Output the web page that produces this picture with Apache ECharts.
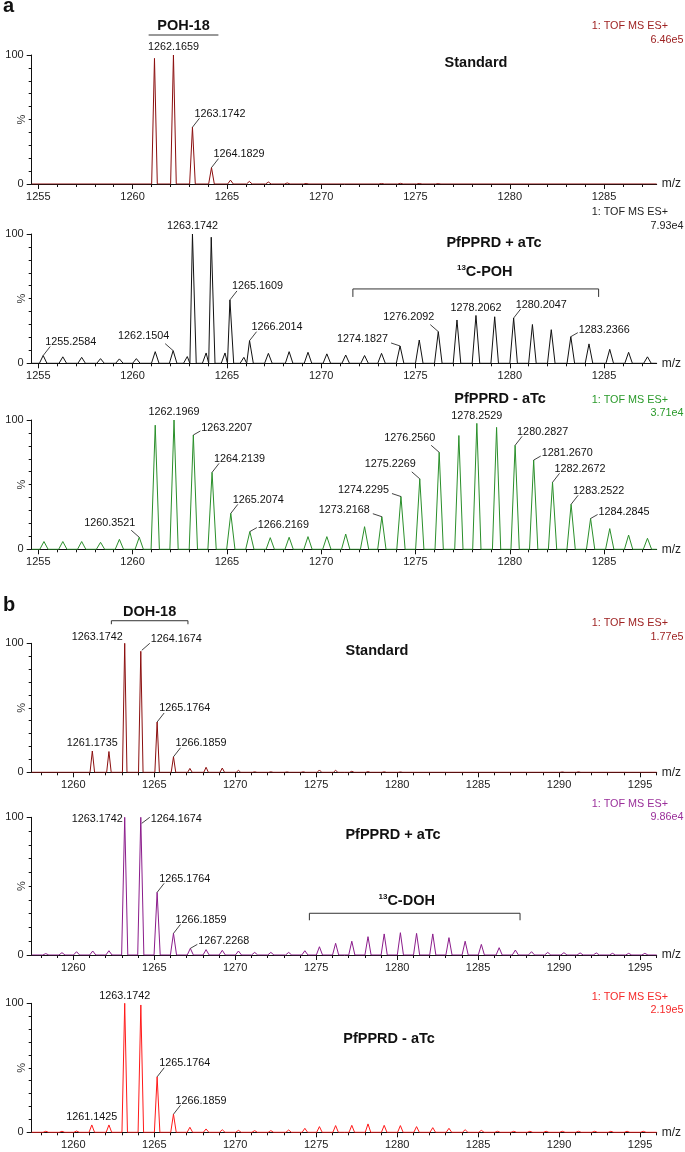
<!DOCTYPE html>
<html><head><meta charset="utf-8">
<script src="https://cdn.jsdelivr.net/npm/echarts@6/dist/echarts.min.js"></script>
<style>html,body{margin:0;padding:0;background:#fff}#c{width:685px;height:1152px}</style>
</head><body><div id="c"></div>
<script>
// ================= DATA =================
const ticksA = [1255, 1260, 1265, 1270, 1275, 1280, 1285];
const ticksB = [1260, 1265, 1270, 1275, 1280, 1285, 1290, 1295];

// peaks: [m/z, relative intensity %]
const peaksA1 = [[1261.16,97.4],[1262.1659,100],[1263.1742,44],[1264.1829,12.7],[1265.19,3],[1266.19,2],[1267.2,1.5],[1268.2,0.8],[1269.2,0.4],[1273.2,0.4],[1274.2,0.5],[1275.2,0.4],[1276.2,0.3]];
const peaksA2 = [[1255.2584,6],[1256.3,5],[1257.3,4.6],[1258.3,3.6],[1259.3,3.4],[1260.2,3.6],[1261.2,9],[1262.1504,9.8],[1262.9,5.2],[1263.1742,100],[1263.9,8],[1264.17,97.5],[1264.9,8],[1265.1609,49],[1265.9,4.6],[1266.2014,17.5],[1267.2,7.7],[1268.3,9],[1269.3,8.5],[1270.3,7.3],[1271.3,6.4],[1272.3,6],[1273.2,7.7],[1274.1827,13.4],[1275.2,18],[1276.2092,24.5],[1277.2,33.5],[1278.2062,37],[1279.2,36],[1280.2047,35],[1281.2,30],[1282.2,26],[1283.2366,20.6],[1284.2,15],[1285.3,10.8],[1286.3,8.5],[1287.3,5]];
const peaksA3 = [[1255.3,6],[1256.3,6],[1257.3,6],[1258.3,5.4],[1259.3,7.7],[1260.3521,9.3],[1261.2,96],[1262.1969,100],[1263.2207,88.4],[1264.2139,59.5],[1265.2074,27.8],[1266.2169,13.7],[1267.3,9],[1268.3,9.3],[1269.3,9.8],[1270.3,9.8],[1271.3,11.8],[1272.3,17.5],[1273.2168,25.2],[1274.2295,40.8],[1275.2269,54.5],[1276.2560,75],[1277.3,88],[1278.2529,97.4],[1279.3,94.3],[1280.2827,80.4],[1281.2670,69],[1282.2672,51.8],[1283.2522,34.8],[1284.2845,23.8],[1285.3,16],[1286.3,11],[1287.3,8.5]];
const peaksB1 = [[1261.1735,16.5],[1262.2,16.1],[1263.1742,100],[1264.1674,93.8],[1265.1764,39],[1266.1859,12],[1267.2,3],[1268.2,3.9],[1269.2,3.3],[1270.2,1.5],[1271.2,0.4],[1272.2,0.4],[1273.2,0.3],[1274.2,0.4],[1275.2,1.8],[1276.2,1.5],[1277.2,0.8],[1278.2,0.5],[1279.2,0.4],[1280.2,0.3],[1290.2,0.3],[1291.2,0.4]];
const peaksB2 = [[1258.3,1],[1259.3,1.7],[1260.2,2.4],[1261.2,2.9],[1262.2,3.1],[1263.1742,100],[1264.1674,100],[1265.1764,45.5],[1266.1859,15.7],[1267.2268,4.8],[1268.2,3.9],[1269.2,3.4],[1270.2,2.9],[1271.2,1.9],[1272.2,1.9],[1273.3,1.9],[1274.3,3.1],[1275.2,6],[1276.2,8.5],[1277.2,10],[1278.2,13.3],[1279.2,15.3],[1280.2,16.2],[1281.2,15.7],[1282.2,15.3],[1283.2,12.6],[1284.2,10],[1285.2,7.7],[1286.3,5.3],[1287.3,3.6],[1288.3,2.4],[1289.3,1.9],[1290.3,1.7],[1291.3,1.5],[1292.3,1.5],[1293.3,1.2],[1294.3,1.2],[1295.3,1.2]];
const peaksB3 = [[1258.3,0.8],[1259.3,0.8],[1260.2,1],[1261.1425,5.7],[1262.2,5.7],[1263.1742,100],[1264.17,98.7],[1265.1764,43],[1266.1859,14],[1267.2,3.9],[1268.2,2.6],[1269.2,2],[1270.2,1.5],[1271.2,1.3],[1272.2,1.3],[1273.3,1.8],[1274.3,3.1],[1275.2,4.4],[1276.2,5.2],[1277.2,5.4],[1278.2,6.5],[1279.2,5.4],[1280.2,5.2],[1281.2,4.4],[1282.2,3.6],[1283.2,3.1],[1284.2,2],[1285.2,1.5],[1286.2,0.8],[1287.2,0.8],[1288.2,0.8],[1289.2,0.8],[1290.2,0.8],[1291.2,0.8],[1292.2,0.8],[1293.2,0.8],[1294.2,0.8],[1295.2,0.8]];

// labelled peaks
const labelsA1 = ['1262.1659','1263.1742','1264.1829'];
const labelsA2 = ['1255.2584','1262.1504','1263.1742','1265.1609','1266.2014','1274.1827','1276.2092','1278.2062','1280.2047','1283.2366'];
const labelsA3 = ['1260.3521','1262.1969','1263.2207','1264.2139','1265.2074','1266.2169','1273.2168','1274.2295','1275.2269','1276.2560','1278.2529','1280.2827','1281.2670','1282.2672','1283.2522','1284.2845'];
const labelsB1 = ['1261.1735','1263.1742','1264.1674','1265.1764','1266.1859'];
const labelsB2 = ['1263.1742','1264.1674','1265.1764','1266.1859','1267.2268'];
const labelsB3 = ['1261.1425','1263.1742','1265.1764','1266.1859'];

const titles = ['Standard','PfPPRD + aTc','PfPPRD - aTc','Standard','PfPPRD + aTc','PfPPRD - aTc'];
const scanNames = ['1: TOF MS ES+','1: TOF MS ES+','1: TOF MS ES+','1: TOF MS ES+','1: TOF MS ES+','1: TOF MS ES+'];
const scanMax = ['6.46e5','7.93e4','3.71e4','1.77e5','9.86e4','2.19e5'];

// ================= LAYOUT / STYLE =================
const placeA1 = ['t','r','r'];
const placeA2 = ['r','l','t','r','r','ll','l','t','r','rl'];
const placeA3 = ['l','t','rl','r','r','rl','ll','ll','l','l','t','r','rl','r','r','rl'];
const placeB1 = ['t','tl','r2','r','r'];
const placeB2 = ['tlm','rm','r','r','rl'];
const placeB3 = ['t','t','r','r'];

const FF = '"Liberation Sans", Arial, sans-serif';
const LABEL_FONT = '10.8px ' + FF;
const TITLE_FONT = 'bold 14.5px ' + FF;
const SUP_FONT = 'bold 8px ' + FF;

const PLACE = {
  t:   {tx:0,   ty:-2, align:'center', va:'bottom', lead:null},
  tl:  {tx:-2,  ty:-6, align:'right',  va:'middle', lead:null},
  tlm: {tx:-2,  ty:2,  align:'right',  va:'middle', lead:null},
  r:   {tx:2,   ty:-8, align:'left',   va:'bottom', lead:[0,0,7,-9]},
  r2:  {tx:10,  ty:-7, align:'left',   va:'bottom', lead:[1,-1,9,-8]},
  rm:  {tx:10,  ty:2,  align:'left',   va:'middle', lead:[1,6,9,0]},
  rl:  {tx:8,   ty:-7, align:'left',   va:'middle', lead:[0,0,7,-4]},
  l:   {tx:-4,  ty:-9, align:'right',  va:'bottom', lead:[0,0,-8,-7]},
  ll:  {tx:-12, ty:-7, align:'right',  va:'middle', lead:[0,0,-9,-3]}
};

const panels = [
  {peaks:peaksA1, labels:labelsA1, places:placeA1, lo:1254.65, hi:1287.79, ticks:ticksA, color:'#8b0f0f', tcolor:'#9e2222', hw:0.15, top:55,    height:129},
  {peaks:peaksA2, labels:labelsA2, places:placeA2, lo:1254.65, hi:1287.79, ticks:ticksA, color:'#111111', tcolor:'#222222', hw:0.2,  top:234,   height:129.3},
  {peaks:peaksA3, labels:labelsA3, places:placeA3, lo:1254.65, hi:1287.79, ticks:ticksA, color:'#2a8f2a', tcolor:'#2a9a2a', hw:0.22, top:420,   height:129.3},
  {peaks:peaksB1, labels:labelsB1, places:placeB1, lo:1257.43, hi:1296.03, ticks:ticksB, color:'#8b0f0f', tcolor:'#9e2222', hw:0.14, top:643.3, height:129},
  {peaks:peaksB2, labels:labelsB2, places:placeB2, lo:1257.43, hi:1296.03, ticks:ticksB, color:'#8b1c8b', tcolor:'#9a2f9a', hw:0.19, top:817.3, height:137.7},
  {peaks:peaksB3, labels:labelsB3, places:placeB3, lo:1257.43, hi:1296.03, ticks:ticksB, color:'#ff1a1a', tcolor:'#f52a2a', hw:0.17, top:1003.3,height:129}
];
const titlePos = [[476,63],[494,243],[500,399],[377,651],[393,835],[389,1039]];
const scanPos = [[26,40],[212,226],[400,413.5],[623.5,637],[804,817],[997,1010]];

const brackets = [
  {panel:0, x1:1260.85, x2:1264.55, y:115.5, sup:'',   main:'POH-18', tick:0,   gap:9,  dx:0},
  {panel:1, x1:1271.68, x2:1284.71, y:57.5,  sup:'13', main:'C-POH',  tick:8,   gap:17, dx:9},
  {panel:3, x1:1262.35, x2:1267.08, y:117.5, sup:'',   main:'DOH-18', tick:3.5, gap:9,  dx:0},
  {panel:4, x1:1274.58, x2:1287.59, y:30.3,  sup:'13', main:'C-DOH',  tick:7,   gap:12.6, dx:-8}
];

// ================= BUILD =================
const mctx = document.createElement('canvas').getContext('2d');
function measure(s, font){ if(!s) return 0; mctx.font = font; return mctx.measureText(s).width; }

function profile(peaks, w, lo, hi){
  const pts = [[lo, 0]];
  for (let i = 0; i < peaks.length; i++){
    const m = peaks[i][0], h = peaks[i][1];
    const prev = i > 0 ? peaks[i-1][0] : -Infinity;
    const next = i < peaks.length-1 ? peaks[i+1][0] : Infinity;
    pts.push([Math.max(m - w, (m + prev)/2), 0]);
    pts.push([m, h]);
    pts.push([Math.min(m + w, (m + next)/2), 0]);
  }
  pts.push([hi, 0]);
  return pts;
}
function peakHeight(peaks, m){
  let best = peaks[0], d = Infinity;
  peaks.forEach(p => { const dd = Math.abs(p[0]-m); if (dd < d){ d = dd; best = p; } });
  return best[1];
}
function labelRenderer(texts, places){
  return function(params, api){
    const p = api.coord([api.value(0), api.value(1)]);
    const c = PLACE[places[params.dataIndex]];
    const ch = [];
    if (c.lead) ch.push({type:'line', shape:{x1:p[0]+c.lead[0], y1:p[1]+c.lead[1], x2:p[0]+c.lead[2], y2:p[1]+c.lead[3]}, style:{stroke:'#111', lineWidth:0.8}});
    ch.push({type:'text', x:p[0]+c.tx, y:p[1]+c.ty, style:{text:texts[params.dataIndex], fill:'#111', font:LABEL_FONT, align:c.align, verticalAlign:c.va}});
    return {type:'group', children:ch};
  };
}
function bracketRenderer(b){
  return function(params, api){
    const p1 = api.coord([api.value(0), api.value(2)]);
    const p2 = api.coord([api.value(1), api.value(2)]);
    const y = p1[1];
    const ch = [{type:'polyline', shape:{points:[[p1[0], y+b.tick],[p1[0],y],[p2[0],y],[p2[0],y+b.tick]]}, style:{stroke:'#333', lineWidth:1, fill:'none'}}];
    const cx = (p1[0]+p2[0])/2 + b.dx, ty = y - b.gap;
    const ws = measure(b.sup, SUP_FONT), wm = measure(b.main, TITLE_FONT);
    const left = cx - (ws+wm)/2;
    if (b.sup) ch.push({type:'text', x:left, y:ty-4, style:{text:b.sup, font:SUP_FONT, fill:'#111', align:'left', verticalAlign:'middle'}});
    ch.push({type:'text', x:left+ws, y:ty, style:{text:b.main, font:TITLE_FONT, fill:'#111', align:'left', verticalAlign:'middle'}});
    return {type:'group', children:ch};
  };
}

const grid = [], xAxis = [], yAxis = [], series = [], graphic = [];
panels.forEach((P, i) => {
  grid.push({left:31.7, width:625, top:P.top, height:P.height, outerBoundsMode:'none', containLabel:false});
  const minors = [];
  for (let v = Math.ceil(P.lo); v <= P.hi; v++) minors.push(v);
  xAxis.push({gridIndex:i, type:'value', min:P.lo, max:P.hi, position:'bottom',
    axisLine:{show:true, onZero:false, lineStyle:{color:'#111', width:1}},
    axisTick:{show:true, customValues:P.ticks, length:5, lineStyle:{color:'#111', width:1}},
    axisLabel:{show:true, customValues:P.ticks, fontSize:11, color:'#222', margin:7, fontFamily:FF, formatter:v => String(v)},
    splitLine:{show:false},
    name:'m/z', nameLocation:'end', nameGap:5, nameMoveOverlap:false, nameTextStyle:{fontSize:12, color:'#222', fontFamily:FF}});
  xAxis.push({gridIndex:i, type:'value', min:P.lo, max:P.hi, position:'bottom', offset:0,
    axisLine:{show:false, onZero:false},
    axisTick:{show:true, customValues:minors, length:3, lineStyle:{color:'#111', width:1}},
    axisLabel:{show:false}, splitLine:{show:false}});
  yAxis.push({gridIndex:i, type:'value', min:0, max:100, interval:100,
    axisLine:{show:true, lineStyle:{color:'#111', width:1}},
    axisTick:{show:true, length:5, lineStyle:{color:'#111'}},
    minorTick:{show:true, splitNumber:10, length:3, lineStyle:{color:'#111'}},
    axisLabel:{fontSize:11, color:'#222', margin:8, fontFamily:FF},
    splitLine:{show:false}, minorSplitLine:{show:false},
    name:'%', nameLocation:'middle', nameGap:4, nameRotate:90, nameMoveOverlap:false,
    nameTextStyle:{fontSize:11, color:'#333', fontFamily:FF}});
  series.push({type:'line', xAxisIndex:2*i, yAxisIndex:i, data:profile(P.peaks, P.hw, P.lo, P.hi),
    symbol:'none', showSymbol:false, lineStyle:{color:P.color, width:1}, animation:false, z:3, silent:true});
  series.push({type:'custom', xAxisIndex:2*i, yAxisIndex:i,
    data:P.labels.map(t => [Number(t), peakHeight(P.peaks, Number(t))]),
    renderItem:labelRenderer(P.labels, P.places), z:5, silent:true, clip:false, animation:false});
  graphic.push({type:'text', x:titlePos[i][0], y:titlePos[i][1], style:{text:titles[i], font:TITLE_FONT, fill:'#111', align:'center', verticalAlign:'middle'}});
  graphic.push({type:'text', x:668, y:scanPos[i][0], style:{text:scanNames[i], font:'10.8px '+FF, fill:P.tcolor, align:'right', verticalAlign:'middle'}});
  graphic.push({type:'text', x:683.5, y:scanPos[i][1], style:{text:scanMax[i], font:'10.8px '+FF, fill:P.tcolor, align:'right', verticalAlign:'middle'}});
});
brackets.forEach(b => {
  series.push({type:'custom', xAxisIndex:2*b.panel, yAxisIndex:b.panel, data:[[b.x1, b.x2, b.y]],
    encode:{x:[0,1], y:2}, renderItem:bracketRenderer(b), z:5, silent:true, clip:false, animation:false});
});
graphic.push({type:'text', x:3, y:6, style:{text:'a', font:'bold 20px '+FF, fill:'#111', align:'left', verticalAlign:'middle'}});
graphic.push({type:'text', x:3, y:605, style:{text:'b', font:'bold 20px '+FF, fill:'#111', align:'left', verticalAlign:'middle'}});

const chart = echarts.init(document.getElementById('c'), null, {renderer:'canvas'});
chart.setOption({animation:false, backgroundColor:'#fff', grid, xAxis, yAxis, series, graphic});
</script></body></html>
